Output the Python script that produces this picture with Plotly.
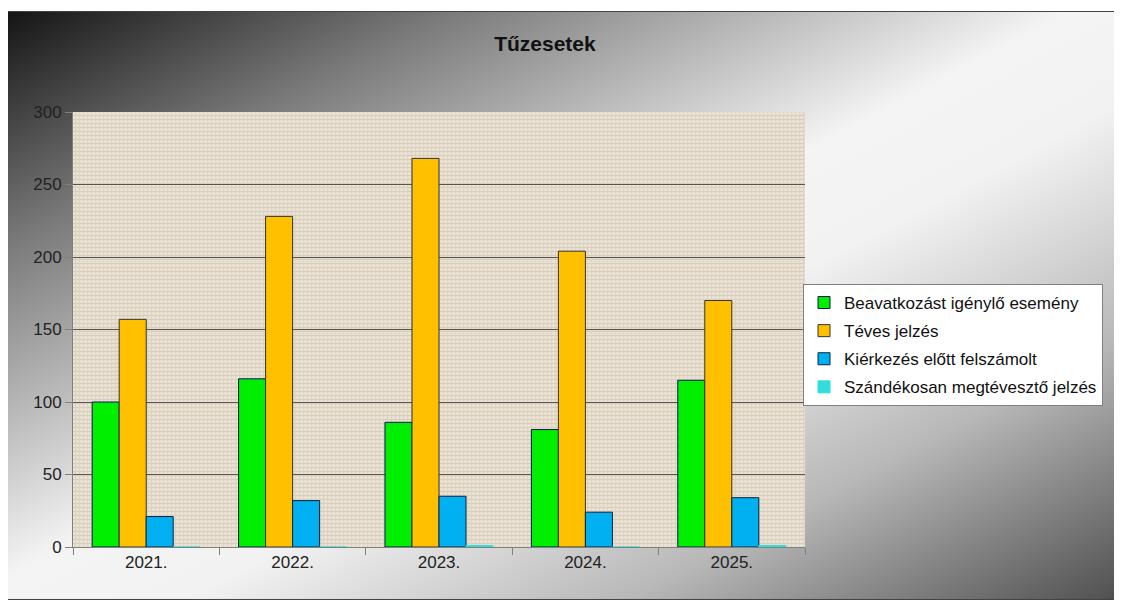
'''
    Grouped bar chart of fire events (Tűzesetek) per year.
'''

import base64
import plotly.graph_objects as go

# Data
years = ["2021.", "2022.", "2023.", "2024.", "2025."]
beavatkozas = [100, 116, 86, 81, 115]
teves = [157, 228, 268, 204, 170]
kierkezes = [21, 32, 35, 24, 34]
szandekos = [0, 0, 1, 0, 1]

series_names = [
    "Beavatkozást igénylő esemény",
    "Téves jelzés",
    "Kiérkezés előtt felszámolt",
    "Szándékosan megtévesztő jelzés",
]
series_values = [beavatkozas, teves, kierkezes, szandekos]
fill_colors = ["#00ee00", "#ffc000", "#00b0f0", "#33dddd"]
edge_colors = ["#101060", "#333333", "#102040", "#33dddd"]


def background_svg():
    '''
        Builds the grey diagonal gradient frame with a beige
        canvas-like panel behind the plot area, as an SVG data URI.
    '''
    svg = '''<svg xmlns="http://www.w3.org/2000/svg" width="1108" height="589" viewBox="0 0 1108 589" preserveAspectRatio="none">
<defs>
<linearGradient id="g" x1="0" y1="0" x2="1" y2="1">
<stop offset="0" stop-color="#141414"/>
<stop offset="0.2" stop-color="#7a7a7a"/>
<stop offset="0.48" stop-color="#f4f4f4"/>
<stop offset="0.58" stop-color="#f2f2f2"/>
<stop offset="0.78" stop-color="#b8b8b8"/>
<stop offset="1" stop-color="#505050"/>
</linearGradient>
<pattern id="p" width="4" height="4" patternUnits="userSpaceOnUse">
<rect width="4" height="4" fill="#e8e0d0"/>
<rect width="4" height="1" fill="#d6cdbc"/>
<rect width="1" height="4" fill="#dcd3c2"/>
<rect x="2" y="2" width="1" height="1" fill="#f3ede2"/>
</pattern>
</defs>
<rect x="0" y="0" width="1108" height="589" fill="url(#g)" stroke="#444" stroke-width="2"/>
<rect x="66" y="101" width="732" height="435" fill="url(#p)"/>
</svg>'''
    return "data:image/svg+xml;base64," + base64.b64encode(svg.encode("utf-8")).decode("ascii")


fig = go.Figure()
for name, vals, fc, ec in zip(series_names, series_values, fill_colors, edge_colors):
    fig.add_trace(go.Bar(
        x=years,
        y=vals,
        name=name,
        legendgroup=name,
        marker=dict(color=fc, line=dict(color=ec, width=1)),
    ))

# the page body has an 8px margin, so the figure is 8px smaller on each side
fig.update_layout(
    width=1114,
    height=595,
    margin=dict(l=65, r=317, t=104, b=56),
    paper_bgcolor="white",
    plot_bgcolor="rgba(0,0,0,0)",
    barmode="group",
    bargap=0.262,
    bargroupgap=0,
    font=dict(family="Liberation Sans, Arial, sans-serif", size=17, color="#222222"),
    title=dict(
        text="<b>Tűzesetek</b>",
        xref="container", x=0.482, xanchor="center",
        yref="container", y=0.9395, yanchor="middle",
        font=dict(size=21, color="#111111"),
    ),
    legend=dict(
        x=0.9973, y=0.6046, xanchor="left", yanchor="top",
        bgcolor="white", bordercolor="#808080", borderwidth=1,
        font=dict(size=17, color="#111111"),
        tracegroupgap=3,
        itemwidth=30,
        itemclick=False,
    ),
    images=[dict(
        source=background_svg(),
        xref="paper", yref="paper",
        x=-0.0902, y=1.2322,
        sizex=1.5137, sizey=1.354,
        sizing="stretch",
        xanchor="left", yanchor="top",
        layer="below",
    )],
)

fig.update_yaxes(
    range=[0, 300], dtick=50,
    showgrid=True, gridcolor="#555555", gridwidth=1,
    showline=True, linecolor="#808080", linewidth=1,
    ticks="outside", ticklen=7, tickcolor="#808080",
    zeroline=False,
)
fig.update_xaxes(
    showline=True, linecolor="#808080", linewidth=1,
    ticks="outside", ticklen=7, tickcolor="#808080",
    tickson="boundaries",
    showgrid=False,
)

fig.write_html("out.html")
